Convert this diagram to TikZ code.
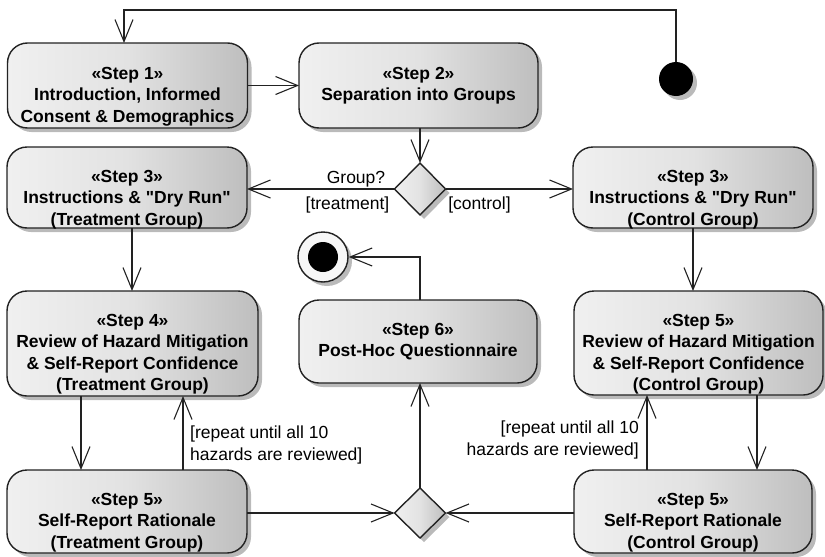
\documentclass[tikz,border=0pt]{standalone}
\usepackage{fontspec}
\setmainfont{Liberation Sans}[Ligatures=TeXOff]
\usetikzlibrary{arrows.meta,shapes.geometric,shadows,calc}
\definecolor{boxL}{RGB}{240,240,240}
\definecolor{boxM}{RGB}{226,226,226}
\definecolor{boxR}{RGB}{190,190,190}
\definecolor{lineC}{RGB}{34,34,34}
\begin{document}
\begin{tikzpicture}[x=1pt,y=-1pt,
  shade/.style={left color=boxL, right color=boxR, middle color=boxM},
  shad/.style={drop shadow={shadow xshift=4pt, shadow yshift=-4pt, opacity=0.45, fill=black!60}},
  act/.style={draw=lineC, line width=1.4pt, rounded corners=20pt, shade, shad, inner sep=0pt, outer sep=0pt},
  acttext/.style={font=\fontsize{17.5}{21.5}\selectfont\bfseries, align=center, inner sep=0pt, anchor=north, text=black},
  lbl/.style={font=\fontsize{17.5}{22}\selectfont, inner sep=0pt, text=black},
  decision/.style={diamond, draw=lineC, line width=1.4pt, shade, shad, inner sep=0pt, outer sep=0pt},
  arr/.style={draw=lineC, line width=1.1pt, -{Straight Barb[length=22pt,width=18pt]}},
  plain/.style={draw=lineC, line width=1.1pt}]
\useasboundingbox (0,0) rectangle (825,557);

% activity boxes
\node[act, minimum width=240pt, minimum height=85pt] (s1) at (127.5,85.5) {};
\node[acttext] (s1t) at ($(s1.north)+(0,21)$) {\strut«Step 1»\\Introduction, Informed\\Consent \& Demographics};

\node[act, minimum width=239pt, minimum height=85pt] (s2) at (418.5,85.5) {};
\node[acttext] (s2t) at ($(s2.north)+(0,21)$) {\strut«Step 2»\\Separation into Groups};

\node[act, minimum width=240pt, minimum height=81pt] (s3t) at (127,187.5) {};
\node[acttext] (s3tt) at ($(s3t.north)+(0,20)$) {\strut«Step 3»\\Instructions \& "Dry Run"\\(Treatment Group)};

\node[act, minimum width=240pt, minimum height=81pt] (s3c) at (693,187.5) {};
\node[acttext] (s3ct) at ($(s3c.north)+(0,20)$) {\strut«Step 3»\\Instructions \& "Dry Run"\\(Control Group)};

\node[act, minimum width=251pt, minimum height=105pt] (s4t) at (132.5,343.5) {};
\node[acttext] (s4tt) at ($(s4t.north)+(0,20)$) {\strut«Step 4»\\Review of Hazard Mitigation\\\& Self-Report Confidence\\(Treatment Group)};

\node[act, minimum width=249pt, minimum height=104pt] (s5rc) at (698.5,343) {};
\node[acttext] (s5rct) at ($(s5rc.north)+(0,20)$) {\strut«Step 5»\\Review of Hazard Mitigation\\\& Self-Report Confidence\\(Control Group)};

\node[act, minimum width=238pt, minimum height=83pt] (s6) at (418,341.5) {};
\node[acttext] (s6t) at ($(s6.north)+(0,20)$) {\strut«Step 6»\\Post-Hoc Questionnaire};

\node[act, minimum width=240pt, minimum height=83pt] (s5t) at (127,511.5) {};
\node[acttext] (s5tt) at ($(s5t.north)+(0,20)$) {\strut«Step 5»\\Self-Report Rationale\\(Treatment Group)};

\node[act, minimum width=238pt, minimum height=83pt] (s5c) at (693,511.5) {};
\node[acttext] (s5ct) at ($(s5c.north)+(0,20)$) {\strut«Step 5»\\Self-Report Rationale\\(Control Group)};

% control nodes
\node[circle, fill=black, minimum size=34pt, inner sep=0pt, shad] (init) at (676,79) {};
\node[circle, draw=lineC, line width=1.4pt, fill=gray!6, minimum size=50pt, inner sep=0pt, shad] (fin) at (323,257) {};
\node[circle, fill=black, minimum size=30pt, inner sep=0pt] (finin) at (fin) {};
\node[decision, minimum width=51pt, minimum height=52pt] (dec1) at (420,189) {};
\node[decision, minimum width=51pt, minimum height=50pt] (dec2) at (420,513) {};

% helper coordinates
\coordinate (top) at (124,10);
\coordinate (xa) at (81,0);
\coordinate (xb) at (183,0);
\coordinate (xc) at (757,0);
\coordinate (xd) at (647,0);
\coordinate (xe) at (132,0);

% connectors
\draw[arr] (init.north) |- (top) -- (top |- s1.north);
\draw[arr] (s1.east) -- (s2.west);
\draw[arr] (dec1 |- s2.south) -- (dec1.north);
\draw[arr] (dec1.west) -- (dec1.west -| s3t.east);
\draw[arr] (dec1.east) -- (dec1.east -| s3c.west);
\draw[arr] (xe |- s3t.south) -- (xe |- s4t.north);
\draw[arr] (s3c.south) -- (s3c.south |- s5rc.north);
\draw[arr] (xa |- s4t.south) -- (xa |- s5t.north);
\draw[arr] (xb |- s5t.north) -- (xb |- s4t.south);
\draw[arr] (xc |- s5rc.south) -- (xc |- s5c.north);
\draw[arr] (xd |- s5c.north) -- (xd |- s5rc.south);
\draw[arr] (s5t.east |- dec2) -- (dec2.west);
\draw[arr] (s5c.west |- dec2) -- (dec2.east);
\draw[arr] (dec2.north) -- (dec2 |- s6.south);
\draw[arr] (dec2 |- s6.north) |- (fin.east);

% labels
\node[lbl, anchor=base] (lg) at (356,183) {Group?};
\node[lbl, anchor=base] (ltr) at (347.5,209) {[treatment]};
\node[lbl, anchor=base] (lco) at (479.5,209) {[control]};
\node[lbl, anchor=base west] (lr1a) at (190,438) {[repeat until all 10};
\node[lbl, anchor=base west] (lr1b) at (190,460) {hazards are reviewed]};
\node[lbl, anchor=base east] (lr2a) at (639,433) {[repeat until all 10};
\node[lbl, anchor=base east] (lr2b) at (639,455) {hazards are reviewed]};
\end{tikzpicture}
\end{document}
